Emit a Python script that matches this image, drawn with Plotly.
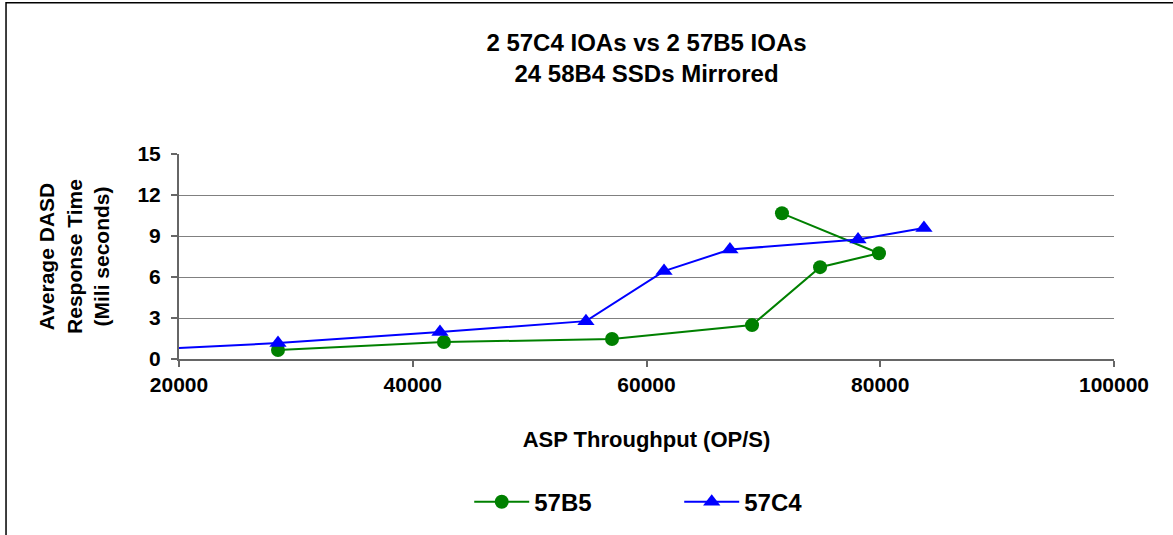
from plotly.graph_objects import Figure, Scatter

# ASP throughput (OP/S) and average DASD response time (ms)
b5_ops = [28470, 42670, 57050, 69030, 74850, 79890, 71590]
b5_ms = [0.66, 1.24, 1.46, 2.48, 6.72, 7.74, 10.66]

c4_ops = [10000, 28470, 42330, 54820, 61500, 67140, 78100, 83740]
c4_ms = [0.36, 1.17, 1.97, 2.77, 6.43, 8.01, 8.74, 9.59]

x_ticks = [20000, 40000, 60000, 80000, 100000]
y_ticks = [0, 3, 6, 9, 12, 15]

FONT = "Liberation Sans, Arial, sans-serif"


def bold(size):
    return dict(family=FONT, size=size, color='black', weight='bold')


fig = Figure()
fig.add_trace(Scatter(x=b5_ops, y=b5_ms, mode='lines+markers', name='57B5',
                      line=dict(color='#008000', width=2),
                      marker=dict(symbol='circle', size=14, color='#008000')))
fig.add_trace(Scatter(x=c4_ops, y=c4_ms, mode='lines+markers', name='57C4',
                      line=dict(color='#0000FF', width=2),
                      marker=dict(symbol='triangle-up', size=15, color='#0000FF')))

fig.update_xaxes(range=[20000, 100000], tickvals=x_ticks, tickformat='d',
                 showgrid=False, zeroline=False, showline=True, linecolor='#666666', linewidth=2,
                 ticks='outside', ticklen=6, tickcolor='#666666', tickwidth=1.5,
                 tickfont=bold(21),
                 title=dict(text='ASP Throughput (OP/S)', standoff=36, font=bold(22)))
fig.update_yaxes(range=[0, 15], tickvals=y_ticks,
                 showgrid=True, gridcolor='#808080', gridwidth=1, zeroline=False,
                 showline=True, linecolor='#666666', linewidth=2,
                 ticks='outside', ticklen=6, tickcolor='#666666', tickwidth=1.5,
                 tickfont=bold(21), ticklabelstandoff=6,
                 title=dict(text='Average DASD<br>Response Time<br>(Mili seconds)', standoff=22,
                            font=bold(21)))
fig.update_layout(
    width=1173, height=535,
    margin=dict(l=179, r=59, t=154, b=175),
    paper_bgcolor='white', plot_bgcolor='white',
    font=dict(family=FONT, color='black'),
    title=dict(text='2 57C4 IOAs vs 2 57B5 IOAs<br>24 58B4 SSDs Mirrored',
               x=0.5, xref='paper', xanchor='center', y=0.905, yanchor='top',
               font=bold(24)),
    showlegend=True,
    legend=dict(orientation='h', x=0.535, xanchor='center', y=-0.69, yanchor='middle',
                font=bold(24), itemwidth=55, entrywidth=140, bgcolor='rgba(0,0,0,0)'),
    shapes=[dict(type='rect', xref='paper', yref='paper', x0=-0.185, x1=1.2, y0=-1.2, y1=1.738,
                 line=dict(color='black', width=1.5), fillcolor='rgba(0,0,0,0)', layer='below')],
)

fig.write_html("out.html", config={'displayModeBar': False},
               post_script="document.body.style.margin='0';")
